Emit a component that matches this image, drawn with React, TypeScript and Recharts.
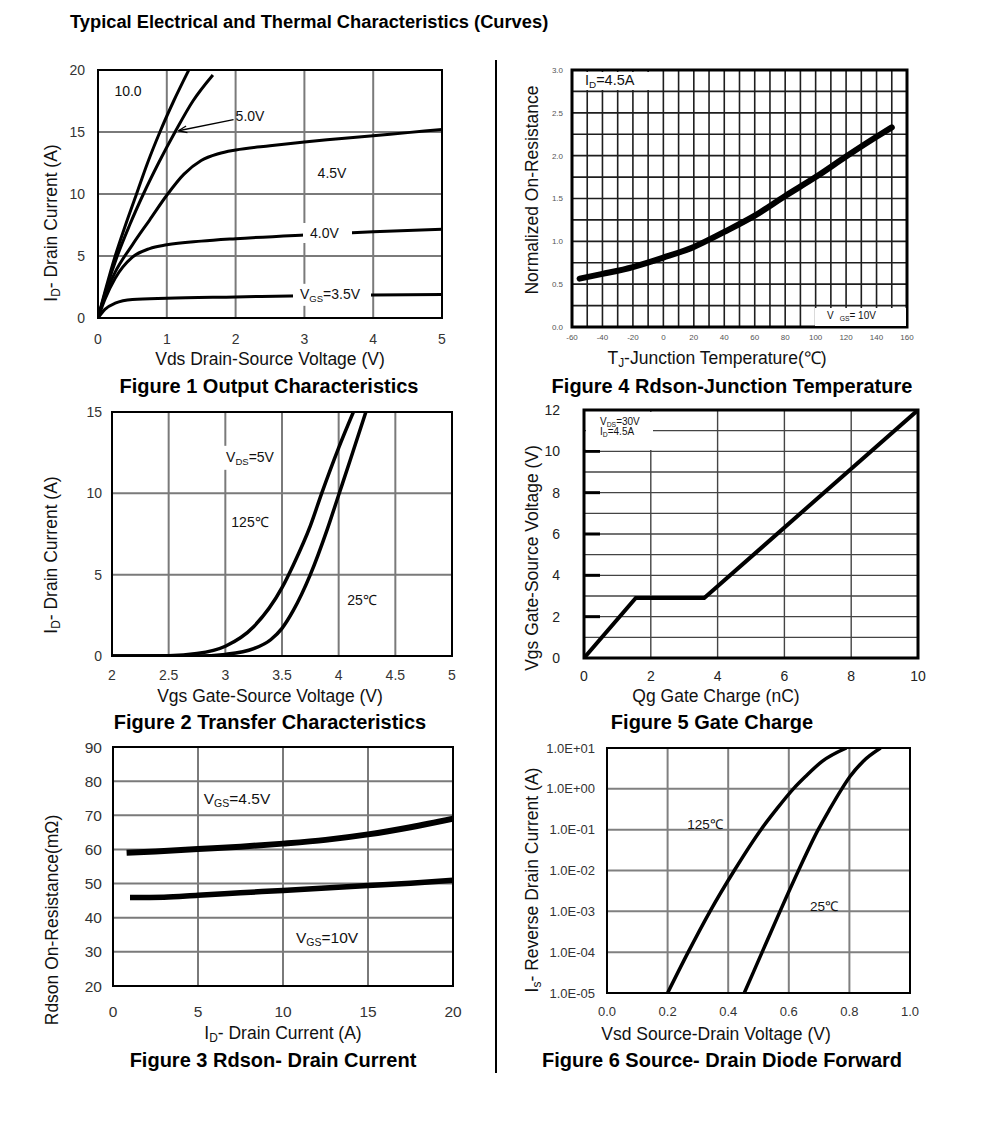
import { LineChart, Line, XAxis, YAxis, CartesianGrid, ReferenceArea, ReferenceLine } from 'recharts'
import type { ReactNode } from 'react'

const FONT = 'Arial, "Liberation Sans", Helvetica, sans-serif'

type Pt = { x: number; y: number }

// Figure 1 - output characteristics, Id vs Vds per Vgs
const outVgs10: Pt[] = [
  { x: 0, y: 0 }, { x: 0.12, y: 2.5 }, { x: 0.25, y: 5 }, { x: 0.4, y: 7.5 }, { x: 0.56, y: 10 },
  { x: 0.72, y: 12.5 }, { x: 0.9, y: 15 }, { x: 1.1, y: 17.5 }, { x: 1.32, y: 20 },
]
const outVgs5: Pt[] = [
  { x: 0, y: 0 }, { x: 0.13, y: 2.5 }, { x: 0.28, y: 5 }, { x: 0.46, y: 7.5 }, { x: 0.66, y: 10 },
  { x: 0.88, y: 12.5 }, { x: 1.12, y: 15 }, { x: 1.38, y: 17.5 }, { x: 1.67, y: 19.6 },
]
const outVgs45: Pt[] = [
  { x: 0, y: 0 }, { x: 0.1, y: 1.8 }, { x: 0.25, y: 3.7 }, { x: 0.5, y: 5.9 }, { x: 0.75, y: 7.9 },
  { x: 1, y: 9.9 }, { x: 1.25, y: 11.6 }, { x: 1.5, y: 12.7 }, { x: 1.75, y: 13.25 }, { x: 2, y: 13.55 },
  { x: 2.5, y: 13.9 }, { x: 3, y: 14.2 }, { x: 3.5, y: 14.45 }, { x: 4, y: 14.7 }, { x: 4.5, y: 14.95 }, { x: 5, y: 15.2 },
]
const outVgs40: Pt[] = [
  { x: 0, y: 0 }, { x: 0.1, y: 1.5 }, { x: 0.25, y: 3.2 }, { x: 0.5, y: 4.9 }, { x: 0.75, y: 5.6 },
  { x: 1, y: 5.9 }, { x: 1.5, y: 6.2 }, { x: 2, y: 6.4 }, { x: 3, y: 6.7 }, { x: 4, y: 6.95 }, { x: 5, y: 7.15 },
]
const outVgs35: Pt[] = [
  { x: 0, y: 0 }, { x: 0.1, y: 0.7 }, { x: 0.25, y: 1.2 }, { x: 0.5, y: 1.5 }, { x: 1, y: 1.6 },
  { x: 2, y: 1.7 }, { x: 3, y: 1.8 }, { x: 4, y: 1.85 }, { x: 5, y: 1.9 },
]
const fig1Curves = [outVgs10, outVgs5, outVgs45, outVgs40, outVgs35]
const fig1XTicks = [0, 1, 2, 3, 4, 5]
const fig1YTicks = [0, 5, 10, 15, 20]
// pointer from the "5.0V" label
const fig1Arrow: Pt[][] = [
  [{ x: 1.97, y: 16.0 }, { x: 1.17, y: 15.1 }],
  [{ x: 1.17, y: 15.1 }, { x: 1.3, y: 14.95 }],
  [{ x: 1.17, y: 15.1 }, { x: 1.28, y: 15.48 }],
]

// Figure 2 - transfer characteristics
const transfer125: Pt[] = [
  { x: 2, y: 0 }, { x: 2.5, y: 0.02 }, { x: 2.75, y: 0.15 }, { x: 3, y: 0.6 }, { x: 3.25, y: 1.8 },
  { x: 3.5, y: 4.2 }, { x: 3.6, y: 5.6 }, { x: 3.75, y: 8 }, { x: 3.85, y: 10 }, { x: 4, y: 12.8 }, { x: 4.13, y: 15 },
]
const transfer25: Pt[] = [
  { x: 2, y: 0 }, { x: 2.75, y: 0 }, { x: 3, y: 0.1 }, { x: 3.25, y: 0.45 }, { x: 3.4, y: 1 },
  { x: 3.5, y: 1.7 }, { x: 3.6, y: 2.8 }, { x: 3.75, y: 5 }, { x: 3.9, y: 7.8 }, { x: 4, y: 9.9 },
  { x: 4.1, y: 12 }, { x: 4.24, y: 15 },
]
const fig2XTicks = [2, 2.5, 3, 3.5, 4, 4.5, 5]
const fig2YTicks = [0, 5, 10, 15]

// Figure 3 - Rdson vs drain current
const rdsonVgs45: Pt[] = [
  { x: 0.8, y: 59 }, { x: 2.5, y: 59.4 }, { x: 5, y: 60.1 }, { x: 7.5, y: 60.8 }, { x: 10, y: 61.7 },
  { x: 12.5, y: 62.8 }, { x: 15, y: 64.4 }, { x: 17.5, y: 66.5 }, { x: 20, y: 69 },
]
const rdsonVgs10: Pt[] = [
  { x: 1, y: 45.9 }, { x: 3, y: 46 }, { x: 5, y: 46.6 }, { x: 7.5, y: 47.3 }, { x: 10, y: 48 },
  { x: 12.5, y: 48.7 }, { x: 15, y: 49.4 }, { x: 17.5, y: 50.1 }, { x: 20, y: 51 },
]
const fig3XTicks = [0, 5, 10, 15, 20]
const fig3YTicks = [20, 30, 40, 50, 60, 70, 80, 90]

// Figure 4 - normalized Rdson vs junction temperature
const rdsonTemp: Pt[] = [
  { x: -55, y: 0.565 }, { x: -40, y: 0.62 }, { x: -20, y: 0.7 }, { x: 0, y: 0.81 }, { x: 20, y: 0.935 },
  { x: 40, y: 1.11 }, { x: 60, y: 1.3 }, { x: 80, y: 1.53 }, { x: 100, y: 1.75 }, { x: 120, y: 1.99 },
  { x: 140, y: 2.22 }, { x: 150, y: 2.33 },
]
const fig4XTicks = [-60, -40, -20, 0, 20, 40, 60, 80, 100, 120, 140, 160]
const fig4YTicks = [0, 0.5, 1, 1.5, 2, 2.5, 3]
const fig4VGrid = [-50, -40, -30, -20, -10, 0, 10, 20, 30, 40, 50, 60, 70, 80, 90, 100, 110, 120, 130, 140, 150]
const fig4HGrid = [0.25, 0.5, 0.75, 1, 1.25, 1.5, 1.75, 2, 2.25, 2.5, 2.75]

// Figure 5 - gate charge
const gateCharge: Pt[] = [{ x: 0, y: 0 }, { x: 1.55, y: 2.9 }, { x: 3.6, y: 2.9 }, { x: 10, y: 12 }]
const fig5XTicks = [0, 2, 4, 6, 8, 10]
const fig5YTicks = [0, 2, 4, 6, 8, 10, 12]
const fig5HGrid = [1, 2, 3, 4, 5, 6, 7, 8, 9, 10, 11]

// Figure 6 - body diode forward
const diode125: Pt[] = [
  { x: 0.2, y: 1e-5 }, { x: 0.268, y: 1e-4 }, { x: 0.34, y: 1e-3 }, { x: 0.42, y: 1e-2 }, { x: 0.508, y: 1e-1 },
  { x: 0.557, y: 0.3 }, { x: 0.615, y: 1 }, { x: 0.655, y: 2 }, { x: 0.71, y: 4.7 }, { x: 0.79, y: 10 },
]
const diode25: Pt[] = [
  { x: 0.453, y: 1e-5 }, { x: 0.512, y: 1e-4 }, { x: 0.571, y: 1e-3 }, { x: 0.632, y: 1e-2 }, { x: 0.697, y: 1e-1 },
  { x: 0.733, y: 0.3 }, { x: 0.775, y: 1 }, { x: 0.802, y: 2 }, { x: 0.845, y: 4.7 }, { x: 0.903, y: 10 },
]
const fig6XTicks = [0, 0.2, 0.4, 0.6, 0.8, 1]
const fig6YTicks = [1e-5, 1e-4, 1e-3, 1e-2, 1e-1, 1, 10]

type Rect = { x0: number; y0: number; x1: number; y1: number }
const P1: Rect = { x0: 98, y0: 70, x1: 442, y1: 318 }
const P2: Rect = { x0: 112, y0: 412, x1: 452, y1: 656 }
const P3: Rect = { x0: 113, y0: 747, x1: 453, y1: 986 }
const P4: Rect = { x0: 572, y0: 70, x1: 907, y1: 327 }
const P5: Rect = { x0: 584, y0: 410, x1: 918, y1: 658 }
const P6: Rect = { x0: 607, y0: 748, x1: 910, y1: 993 }

const MARGIN = { top: 10, right: 20, bottom: 0, left: 0 }
const X_H = 40

const AXIS_FS = 17.5
const TITLE_FS = 20

const size = (r: Rect, yw: number) => ({
  left: r.x0 - yw,
  top: r.y0 - MARGIN.top,
  width: r.x1 - r.x0 + yw + MARGIN.right,
  height: r.y1 - r.y0 + MARGIN.top + X_H,
})

const tickStyle = (fontSize: number, fill = '#333') => ({ fontSize, fill, fontFamily: FONT })

const expLabel = (v: number) => {
  const e = Math.round(Math.log10(v))
  return `1.0E${e < 0 ? '-' : '+'}${String(Math.abs(e)).padStart(2, '0')}`
}

function GateTick(props: any) {
  const { x, y, payload } = props
  const v = payload.value
  return (
    <g>
      {v > 0 && v < 12 && <line x1={x + 24} x2={x + 40} y1={y} y2={y} stroke="#000" strokeWidth={3} />}
      <text x={x} y={y} dy={5} textAnchor="end" fontSize={14} fill="#222" fontFamily={FONT}>{v}</text>
    </g>
  )
}

type NoteProps = {
  x: number
  y: number
  size?: number
  weight?: number
  anchor?: 'start' | 'middle'
  rotate?: boolean
  bg?: boolean
  pad?: string
  color?: string
  children: ReactNode
}

function Note({ x, y, size = 13, weight = 400, anchor = 'middle', rotate = false, bg = false, pad = '0', color = '#111', children }: NoteProps) {
  const tx = anchor === 'middle' ? '-50%' : '0'
  return (
    <div
      style={{
        position: 'absolute', left: x, top: y,
        transform: rotate ? 'translate(-50%,-50%) rotate(-90deg)' : `translate(${tx},-50%)`,
        fontFamily: FONT, fontSize: size, fontWeight: weight, lineHeight: 1, whiteSpace: 'nowrap',
        color, background: bg ? '#fff' : undefined, padding: pad,
      }}
    >
      {children}
    </div>
  )
}

const Sub = ({ children }: { children: ReactNode }) => (
  <span style={{ fontSize: '0.68em', verticalAlign: '-0.3em' }}>{children}</span>
)

function WhiteBox({ x, y, w, h }: { x: number; y: number; w: number; h: number }) {
  return <div style={{ position: 'absolute', left: x, top: y, width: w, height: h, background: '#fff' }} />
}

export default function App() {
  const s1 = size(P1, 50)
  const s2 = size(P2, 50)
  const s3 = size(P3, 50)
  const s4 = size(P4, 50)
  const s5 = size(P5, 50)
  const s6 = size(P6, 70)

  return (
    <div style={{ position: 'absolute', left: 0, top: 0, width: 991, height: 1121, background: '#fff', fontFamily: FONT, color: '#000', overflow: 'hidden' }}>
      <Note x={70} y={22} size={18.3} weight={700} anchor="start" color="#000">Typical Electrical and Thermal Characteristics (Curves)</Note>
      <div style={{ position: 'absolute', left: 494.5, top: 60, width: 2.5, height: 1013, background: '#000' }} />

      {/* Figure 1 */}
      <div style={{ position: 'absolute', left: s1.left, top: s1.top }}>
        <LineChart width={s1.width} height={s1.height} margin={MARGIN}>
          <CartesianGrid stroke="#7a7a7a" strokeWidth={2} horizontalValues={[5, 10, 15]} verticalValues={[1, 2, 3, 4]} />
          <XAxis type="number" dataKey="x" domain={[0, 5]} ticks={fig1XTicks} interval={0} axisLine={false} tickLine={false} tickSize={0} tickMargin={16} height={X_H} tick={tickStyle(14)} allowDataOverflow />
          <YAxis type="number" domain={[0, 20]} ticks={fig1YTicks} interval={0} axisLine={false} tickLine={false} tickSize={0} tickMargin={13} width={50} tick={tickStyle(14)} allowDataOverflow />
          <ReferenceArea x1={0} x2={5} y1={0} y2={20} fill="none" stroke="#000" strokeWidth={2} />
          {fig1Curves.map((d, i) => (
            <Line key={i} data={d} dataKey="y" type="monotone" stroke="#000" strokeWidth={3} dot={false} isAnimationActive={false} />
          ))}
          {fig1Arrow.map((seg, i) => (
            <ReferenceLine key={i} segment={seg} stroke="#000" strokeWidth={1.3} />
          ))}
        </LineChart>
      </div>
      <Note x={128} y={91} size={14}>10.0</Note>
      <Note x={250} y={116} size={14}>5.0V</Note>
      <Note x={332} y={173} size={14}>4.5V</Note>
      <Note x={303} y={233} size={14} anchor="start" bg pad="3px 13px 3px 7px">4.0V</Note>
      <Note x={293} y={295} size={14} anchor="start" bg pad="3px 11px 3px 7px">V<Sub>GS</Sub>=3.5V</Note>
      <Note x={53} y={223} size={AXIS_FS} rotate>I<Sub>D</Sub>- Drain Current (A)</Note>
      <Note x={270} y={360} size={AXIS_FS}>Vds Drain-Source Voltage (V)</Note>
      <Note x={269} y={386} size={TITLE_FS} weight={700} color="#000">Figure 1 Output Characteristics</Note>

      {/* Figure 4 */}
      <div style={{ position: 'absolute', left: s4.left, top: s4.top }}>
        <LineChart width={s4.width} height={s4.height} margin={MARGIN}>
          <CartesianGrid stroke="#1e1e1e" strokeWidth={1.6} horizontalValues={fig4HGrid} verticalValues={fig4VGrid} />
          <XAxis type="number" dataKey="x" domain={[-60, 160]} ticks={fig4XTicks} interval={0} axisLine={false} tickLine={false} tickSize={0} tickMargin={7} height={X_H} tick={tickStyle(8, '#555')} allowDataOverflow />
          <YAxis type="number" domain={[0, 3]} ticks={fig4YTicks} interval={0} axisLine={false} tickLine={false} tickSize={0} tickMargin={9} width={50} tick={tickStyle(8, '#555')} tickFormatter={(v: number) => v.toFixed(1)} allowDataOverflow />
          <ReferenceArea x1={-60} x2={160} y1={0} y2={3} fill="none" stroke="#000" strokeWidth={3} />
          <Line data={rdsonTemp} dataKey="y" type="monotone" stroke="#000" strokeWidth={6} strokeLinecap="round" dot={false} isAnimationActive={false} />
        </LineChart>
      </div>
      <WhiteBox x={574} y={71.5} w={86} h={18} />
      <Note x={585} y={81} size={14.5} anchor="start">I<Sub>D</Sub>=4.5A</Note>
      <WhiteBox x={815} y={308} w={90.5} h={17.5} />
      <Note x={827} y={317} size={10} anchor="start">V<span style={{ marginLeft: 6 }} /><Sub>GS</Sub>= 10V</Note>
      <Note x={533} y={190} size={AXIS_FS} rotate>Normalized On-Resistance</Note>
      <Note x={717} y={360} size={AXIS_FS}>T<Sub>J</Sub>-Junction Temperature(℃)</Note>
      <Note x={732} y={386} size={TITLE_FS} weight={700} color="#000">Figure 4 Rdson-Junction Temperature</Note>

      {/* Figure 2 */}
      <div style={{ position: 'absolute', left: s2.left, top: s2.top }}>
        <LineChart width={s2.width} height={s2.height} margin={MARGIN}>
          <CartesianGrid stroke="#7a7a7a" strokeWidth={2} horizontalValues={[5, 10]} verticalValues={[2.5, 3, 3.5, 4, 4.5]} />
          <XAxis type="number" dataKey="x" domain={[2, 5]} ticks={fig2XTicks} interval={0} axisLine={false} tickLine={false} tickSize={0} tickMargin={14} height={X_H} tick={tickStyle(14)} allowDataOverflow />
          <YAxis type="number" domain={[0, 15]} ticks={fig2YTicks} interval={0} axisLine={false} tickLine={false} tickSize={0} tickMargin={10} width={50} tick={tickStyle(14)} allowDataOverflow />
          <ReferenceArea x1={2} x2={5} y1={0} y2={15} fill="none" stroke="#000" strokeWidth={2} />
          <Line data={transfer125} dataKey="y" type="monotone" stroke="#000" strokeWidth={3.5} dot={false} isAnimationActive={false} />
          <Line data={transfer25} dataKey="y" type="monotone" stroke="#000" strokeWidth={3.5} dot={false} isAnimationActive={false} />
        </LineChart>
      </div>
      <Note x={250} y={458} size={14} bg pad="4px 5px">V<Sub>DS</Sub>=5V</Note>
      <Note x={250} y={522} size={14}>125℃</Note>
      <Note x={362} y={600} size={14}>25℃</Note>
      <Note x={53} y={555} size={AXIS_FS} rotate>I<Sub>D</Sub>- Drain Current (A)</Note>
      <Note x={270} y={697} size={AXIS_FS}>Vgs Gate-Source Voltage (V)</Note>
      <Note x={270} y={722} size={TITLE_FS} weight={700} color="#000">Figure 2 Transfer Characteristics</Note>

      {/* Figure 5 */}
      <div style={{ position: 'absolute', left: s5.left, top: s5.top }}>
        <LineChart width={s5.width} height={s5.height} margin={MARGIN}>
          <CartesianGrid stroke="#444" strokeWidth={1.4} horizontalValues={fig5HGrid} verticalValues={[2, 4, 6, 8]} />
          <XAxis type="number" dataKey="x" domain={[0, 10]} ticks={fig5XTicks} interval={0} axisLine={false} tickLine={false} tickSize={0} tickMargin={13} height={X_H} tick={tickStyle(14, '#222')} allowDataOverflow />
          <YAxis type="number" domain={[0, 12]} ticks={fig5YTicks} interval={0} axisLine={false} tickLine={false} tickSize={0} tickMargin={24} width={50} tick={<GateTick />} allowDataOverflow />
          <ReferenceArea x1={0} x2={10} y1={0} y2={12} fill="none" stroke="#000" strokeWidth={3} />
          <Line data={gateCharge} dataKey="y" type="linear" stroke="#000" strokeWidth={4} dot={false} isAnimationActive={false} />
        </LineChart>
      </div>
      <WhiteBox x={586} y={411.5} w={67} h={38} />
      <Note x={600} y={423} size={10} anchor="start">V<Sub>DS</Sub>=30V</Note>
      <Note x={600} y={433} size={10} anchor="start">I<Sub>D</Sub>=4.5A</Note>
      <Note x={533} y={558} size={AXIS_FS} rotate>Vgs Gate-Source Voltage (V)</Note>
      <Note x={716} y={697} size={AXIS_FS}>Qg Gate Charge (nC)</Note>
      <Note x={712} y={722} size={TITLE_FS} weight={700} color="#000">Figure 5 Gate Charge</Note>

      {/* Figure 3 */}
      <div style={{ position: 'absolute', left: s3.left, top: s3.top }}>
        <LineChart width={s3.width} height={s3.height} margin={MARGIN}>
          <CartesianGrid stroke="#7a7a7a" strokeWidth={2} horizontalValues={[30, 40, 50, 60, 70, 80]} verticalValues={[5, 10, 15]} />
          <XAxis type="number" dataKey="x" domain={[0, 20]} ticks={fig3XTicks} interval={0} axisLine={false} tickLine={false} tickSize={0} tickMargin={20} height={X_H} tick={tickStyle(15.5)} allowDataOverflow />
          <YAxis type="number" domain={[20, 90]} ticks={fig3YTicks} interval={0} axisLine={false} tickLine={false} tickSize={0} tickMargin={11} width={50} tick={tickStyle(15.5)} allowDataOverflow />
          <ReferenceArea x1={0} x2={20} y1={20} y2={90} fill="none" stroke="#000" strokeWidth={2} />
          <Line data={rdsonVgs45} dataKey="y" type="monotone" stroke="#000" strokeWidth={6} dot={false} isAnimationActive={false} />
          <Line data={rdsonVgs10} dataKey="y" type="monotone" stroke="#000" strokeWidth={5.5} dot={false} isAnimationActive={false} />
        </LineChart>
      </div>
      <Note x={237} y={800} size={15.5}>V<Sub>GS</Sub>=4.5V</Note>
      <Note x={327} y={939} size={15.5}>V<Sub>GS</Sub>=10V</Note>
      <Note x={53} y={920} size={AXIS_FS} rotate>Rdson On-Resistance(mΩ)</Note>
      <Note x={283} y={1035} size={AXIS_FS}>I<Sub>D</Sub>- Drain Current (A)</Note>
      <Note x={273} y={1060} size={TITLE_FS} weight={700} color="#000">Figure 3 Rdson- Drain Current</Note>

      {/* Figure 6 */}
      <div style={{ position: 'absolute', left: s6.left, top: s6.top }}>
        <LineChart width={s6.width} height={s6.height} margin={MARGIN}>
          <CartesianGrid stroke="#808080" strokeWidth={2} horizontalValues={[1e-4, 1e-3, 1e-2, 1e-1, 1]} verticalValues={[0.2, 0.4, 0.6, 0.8]} />
          <XAxis type="number" dataKey="x" domain={[0, 1]} ticks={fig6XTicks} interval={0} axisLine={false} tickLine={false} tickSize={0} tickMargin={14} height={X_H} tick={tickStyle(13)} tickFormatter={(v: number) => v.toFixed(1)} allowDataOverflow />
          <YAxis type="number" scale="log" domain={[1e-5, 10]} ticks={fig6YTicks} interval={0} axisLine={false} tickLine={false} tickSize={0} tickMargin={12} width={70} tick={tickStyle(13)} tickFormatter={expLabel} allowDataOverflow />
          <ReferenceArea x1={0} x2={1} y1={1e-5} y2={10} fill="none" stroke="#000" strokeWidth={2} />
          <Line data={diode125} dataKey="y" type="monotone" stroke="#000" strokeWidth={3.5} dot={false} isAnimationActive={false} />
          <Line data={diode25} dataKey="y" type="monotone" stroke="#000" strokeWidth={3.5} dot={false} isAnimationActive={false} />
        </LineChart>
      </div>
      <Note x={705} y={825} size={13.5}>125℃</Note>
      <Note x={824} y={907} size={13.5}>25℃</Note>
      <Note x={534} y={880} size={AXIS_FS} rotate>I<Sub>s</Sub>- Reverse Drain Current (A)</Note>
      <Note x={716} y={1035} size={AXIS_FS}>Vsd Source-Drain Voltage (V)</Note>
      <Note x={722} y={1060} size={TITLE_FS} weight={700} color="#000">Figure 6 Source- Drain Diode Forward</Note>
    </div>
  )
}
